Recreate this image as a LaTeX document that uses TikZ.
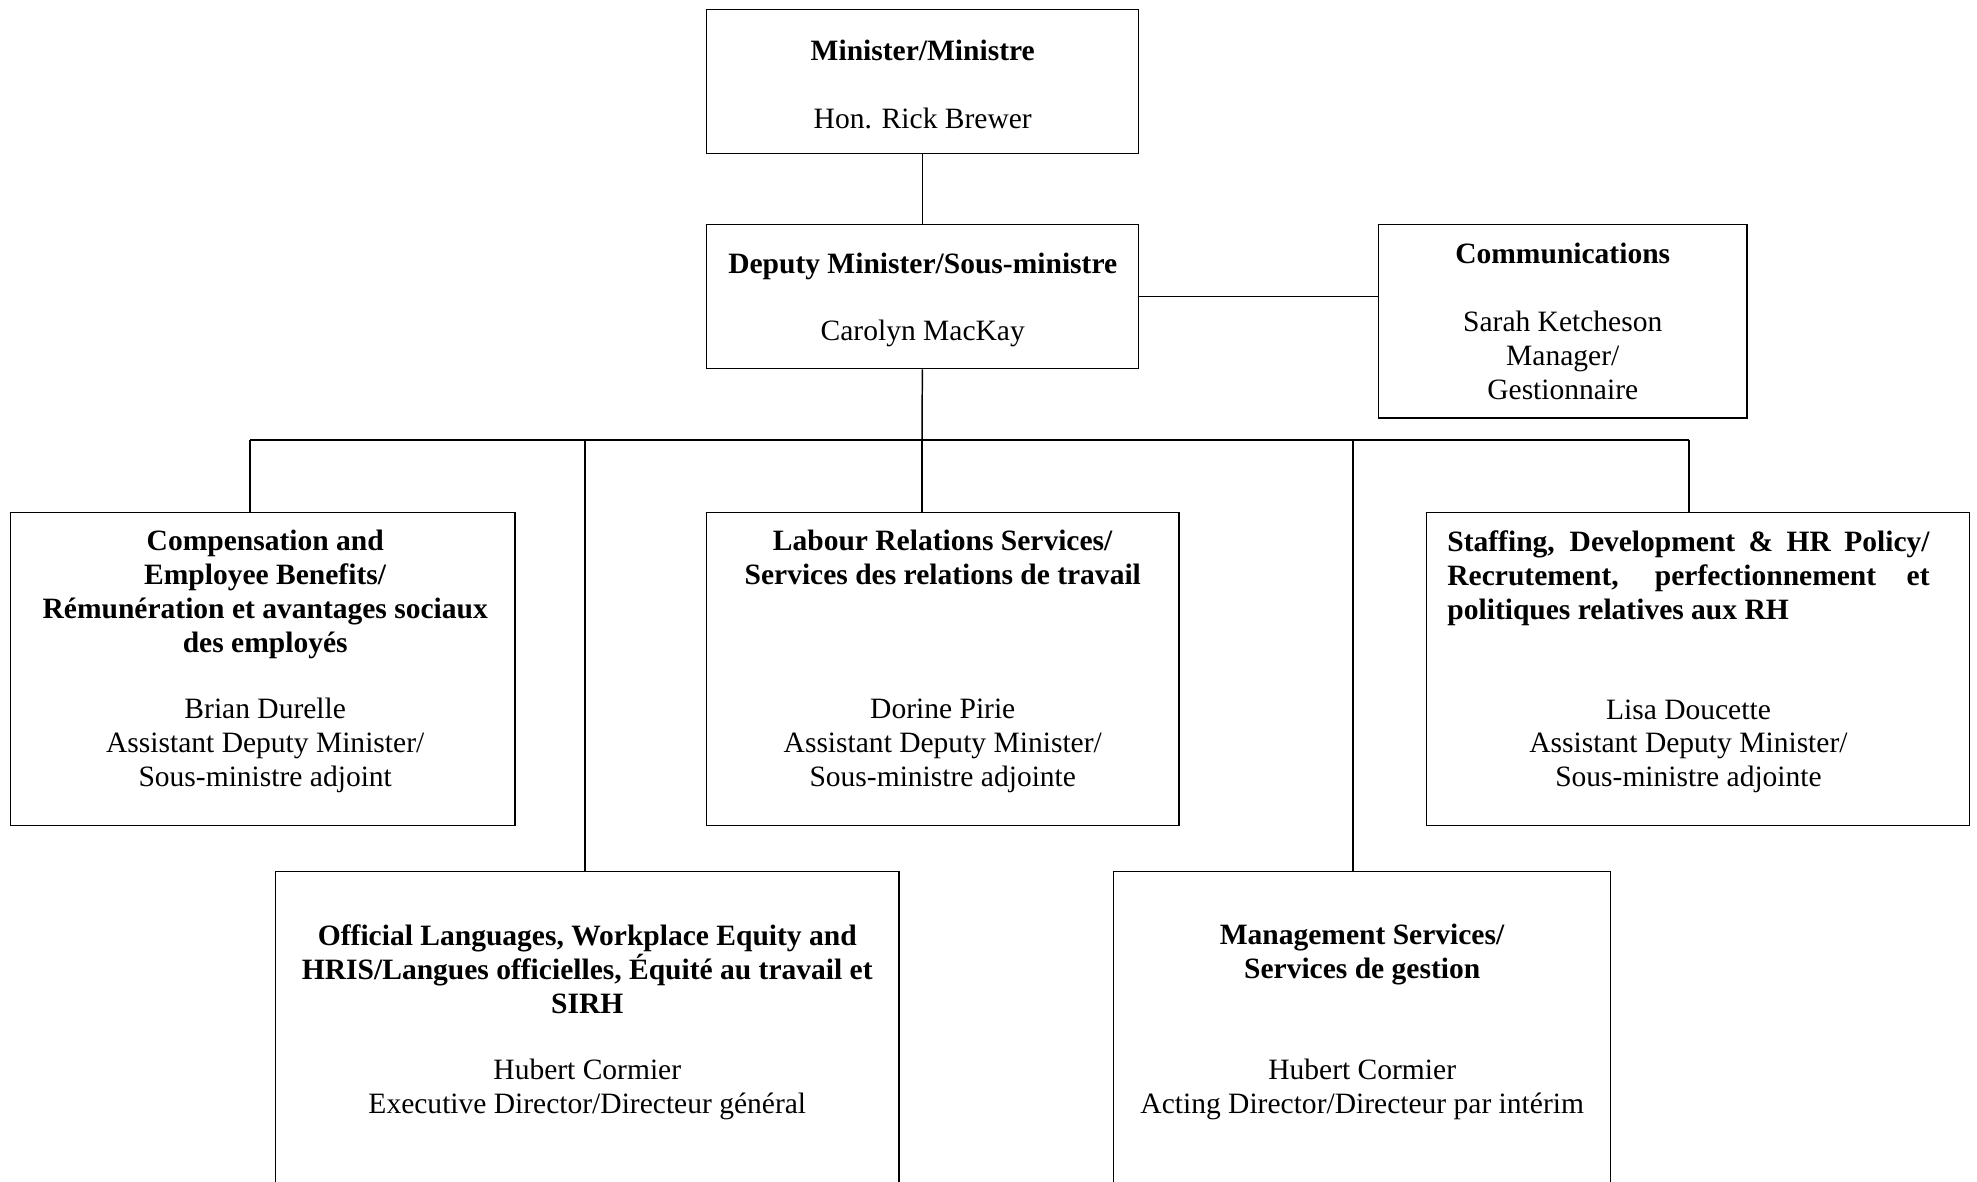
\documentclass[tikz,border=0pt]{standalone}
\usepackage{fontspec}
\setmainfont{Liberation Serif}
\usetikzlibrary{positioning}
\tikzset{
  orgbox/.style={draw, line width=0.6pt, inner sep=0pt, anchor=north west},
  orgtxt/.style={align=center, inner sep=0pt, font=\fontsize{12}{13.8}\selectfont},
  link/.style={line width=0.6pt},
}

\begin{document}
\begin{tikzpicture}[x=0.4065pt, y=-0.4065pt]
  \clip (0,0) rectangle (1977,1182);
  % boxes
  \node[orgbox, minimum width=175.6pt, minimum height=58.5pt] (min) at (706,9) {};
  \node[orgbox, minimum width=175.6pt, minimum height=58.5pt] (dep) at (706,224) {};
  \node[orgbox, minimum width=149.6pt, minimum height=78.5pt] (comm) at (1378,224) {};
  \node[orgbox, minimum width=204.9pt, minimum height=127.2pt] (comp) at (10,512) {};
  \node[orgbox, minimum width=191.9pt, minimum height=127.2pt] (lab) at (706,512) {};
  \node[orgbox, minimum width=220.7pt, minimum height=127.2pt] (staff) at (1426,512) {};
  \node[orgbox, minimum width=253.3pt, minimum height=170pt] (ol) at (275,871) {};
  \node[orgbox, minimum width=202pt, minimum height=170pt] (mgmt) at (1113,871) {};
  % texts
  \node[orgtxt, yshift=-1.3pt] (min-t) at (min) {\textbf{Minister/Ministre}\\[13.8pt]Hon. Rick Brewer};
  \node[orgtxt, yshift=-1.3pt] (dep-t) at (dep) {\textbf{Deputy Minister/Sous-ministre}\\[13.8pt]Carolyn MacKay};
  \node[orgtxt] (comm-t) at (comm) {\textbf{Communications}\\[13.8pt]Sarah Ketcheson\\Manager/\\Gestionnaire};
  \node[orgtxt, anchor=north, below=7.3pt of comp.north, xshift=1pt] (comp-t)
    {\textbf{Compensation and}\\\textbf{Employee Benefits/}\\\textbf{Rémunération et avantages sociaux}\\\textbf{des employés}\\[12.8pt]
     Brian Durelle\\Assistant Deputy Minister/\\Sous-ministre adjoint};
  \node[orgtxt, anchor=north, below=7.3pt of lab.north] (lab-t)
    {\textbf{Labour Relations Services/}\\\textbf{Services des relations de travail}\\[40.6pt]
     Dorine Pirie\\Assistant Deputy Minister/\\Sous-ministre adjointe};
  \node[orgtxt, below right=7.3pt and 8.5pt of staff.north west] (staff-t)
    {\parbox[b]{196pt}{\bfseries Staffing, Development \& HR Policy/\linebreak
      Recrutement, perfectionnement et\linebreak politiques relatives aux RH}\\[26.8pt]
     Lisa Doucette\\Assistant Deputy Minister/\\Sous-ministre adjointe};
  \node[orgtxt, anchor=north, below=21.5pt of ol.north] (ol-t)
    {\textbf{Official Languages, Workplace Equity and}\\\textbf{HRIS/Langues officielles, Équité au travail et}\\\textbf{SIRH}\\[13.4pt]
     Hubert Cormier\\Executive Director/Directeur général};
  \node[orgtxt, anchor=north, below=21.5pt of mgmt.north] (mgmt-t)
    {\textbf{Management Services/}\\\textbf{Services de gestion}\\[27.2pt]
     Hubert Cormier\\Acting Director/Directeur par intérim};
  % connectors
  \coordinate (bus) at (922,440);
  \coordinate (d1) at (250,440);
  \coordinate (d2) at (585,440);
  \coordinate (d4) at (1353,440);
  \coordinate (d5) at (1689,440);
  \draw[link] (min) -- (dep);
  \draw[link] (dep.east) -- (dep.east -| comm.west);
  \draw[link] (dep) -- (bus);
  \draw[link] (d1) -- (d5);
  \draw[link] (d1) -- (d1 |- comp.north);
  \draw[link] (d2) -- (d2 |- ol.north);
  \draw[link] (bus) -- (bus |- lab.north);
  \draw[link] (d4) -- (d4 |- mgmt.north);
  \draw[link] (d5) -- (d5 |- staff.north);
\end{tikzpicture}
\end{document}
